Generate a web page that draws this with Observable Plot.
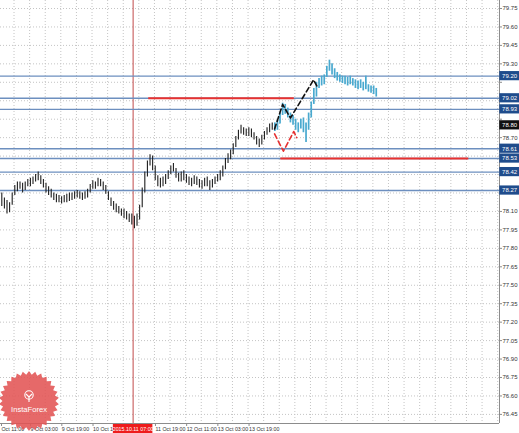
<!DOCTYPE html>
<html><head><meta charset="utf-8">
<script src="https://cdn.jsdelivr.net/npm/d3@7"></script>
<script src="https://cdn.jsdelivr.net/npm/@observablehq/plot@0.6"></script>
<style>
body{margin:0;background:#fff;}
#wrap{position:relative;width:519px;height:433px;overflow:hidden;background:#fff;}
#logo{position:absolute;left:0;top:0;pointer-events:none;}
</style></head><body><div id="wrap"></div>
<script>
// ---- data ----
const blackHigh = [
78.25,78.21,78.19,78.17,78.25,78.31,78.34,78.34,78.33,78.34,
78.36,78.37,78.38,78.40,78.42,78.39,78.36,78.33,78.30,78.28,
78.25,78.24,78.23,78.22,78.23,78.24,78.25,78.25,78.26,78.27,
78.26,78.25,78.26,78.28,78.32,78.35,78.34,78.37,78.36,78.34,
78.31,78.26,78.21,78.18,78.16,78.14,78.12,78.12,78.10,78.08,
78.08,78.06,78.08,78.15,78.29,78.42,78.51,78.56,78.55,78.47,
78.39,78.37,78.38,78.40,78.43,78.47,78.49,78.45,78.41,78.42,
78.43,78.40,78.38,78.37,78.39,78.38,78.36,78.35,78.37,78.38,
78.35,78.36,78.38,78.40,78.43,78.47,78.53,78.57,78.60,78.65,
78.71,78.76,78.80,78.78,78.77,78.78,78.77,78.74,78.71,78.69,
78.72,78.75,78.78,78.81,78.82];
const blackLow = [
78.14,78.12,78.08,78.09,78.15,78.23,78.26,78.28,78.25,78.27,
78.30,78.30,78.32,78.34,78.35,78.32,78.29,78.25,78.23,78.21,
78.19,78.17,78.17,78.16,78.17,78.17,78.18,78.19,78.20,78.21,
78.20,78.19,78.20,78.21,78.25,78.28,78.28,78.30,78.30,78.27,
78.24,78.19,78.14,78.11,78.09,78.08,78.06,78.04,78.03,78.01,
77.99,77.96,77.98,78.03,78.13,78.25,78.38,78.47,78.43,78.35,
78.30,78.29,78.30,78.32,78.36,78.40,78.42,78.37,78.34,78.34,
78.35,78.33,78.31,78.30,78.32,78.31,78.29,78.28,78.30,78.30,
78.27,78.29,78.32,78.34,78.35,78.38,78.44,78.49,78.52,78.56,
78.62,78.68,78.73,78.72,78.71,78.71,78.70,78.68,78.64,78.62,
78.64,78.68,78.72,78.74,78.76];
const blueHigh = [
78.82,78.84,78.90,78.98,78.97,78.94,78.90,78.88,78.85,78.82,
78.85,78.86,78.82,78.90,78.99,79.10,79.15,79.18,79.20,79.21,
79.28,79.33,79.30,79.26,79.23,79.21,79.20,79.20,79.19,79.20,
79.18,79.17,79.16,79.17,79.15,79.20,79.13,79.12,79.12,79.10];
const blueLow = [
78.75,78.76,78.81,78.88,78.89,78.86,78.82,78.80,78.76,78.74,
78.77,78.74,78.66,78.76,78.86,78.97,79.03,79.10,79.12,79.13,
79.19,79.24,79.21,79.18,79.16,79.15,79.14,79.13,79.12,79.13,
79.12,79.10,79.09,79.10,79.08,79.09,79.07,79.06,79.05,79.03];
const blueStart = 105; // bar index where the forecast begins

const levelValues = [79.20, 79.02, 78.93, 78.61, 78.53, 78.42, 78.27];
const currentPrice = 78.80;
const redLevelPrice = [79.02, 78.53];
const redLevelFrom = [56.5, 107.3];
const redLevelTo = [112.5, 179.6];

const blackPathBar = [104.9, 108.0, 111.0, 119.9, 121.4];
const blackPathPrice = [78.77, 78.97, 78.86, 79.17, 79.11];
const redPathBar = [104.9, 108.3, 112.3, 113.4];
const redPathPrice = [78.73, 78.59, 78.75, 78.70];

const yTickValues = [79.75,79.60,79.45,79.30,79.15,79.00,78.85,78.70,78.55,78.40,78.25,
  78.10,77.95,77.80,77.65,77.50,77.35,77.20,77.05,76.90,76.75,76.60,76.45];
const xTickLabels = ["Oct 11:00","9 Oct 03:00","9 Oct 19:00","10 Oct 11:00",
  "11 Oct 19:00","12 Oct 11:00","13 Oct 03:00","13 Oct 19:00"];
const xTickBars = [-0.5, 10.7, 22.7, 34.7, 58.7, 70.7, 82.7, 94.7];
const crosshairBar = 50.5;
const crosshairLabel = "2015.10.11 07:00";

// ---- build ----
const xDomain = [-0.5, 191.4];
const yDomain = [76.376, 79.815];
const pxPerPrice = 123;
const blackBars = blackHigh.map((h, i) => ({i, hi: h, lo: blackLow[i]}));
const blueBars = blueHigh.map((h, i) => ({i: i + blueStart, hi: h, lo: blueLow[i]}));
const redLevels = redLevelPrice.map((p, k) => ({p, from: redLevelFrom[k], to: redLevelTo[k]}));
const blackPath = blackPathBar.map((b, k) => ({b, p: blackPathPrice[k]}));
const redPath = redPathBar.map((b, k) => ({b, p: redPathPrice[k]}));
const xGridPos = d3.range(4.7, 191, 6);
const boxHalf = 4.6 / pxPerPrice;
const boxX1 = 191.5, boxX2 = 200;
const boxed = levelValues.concat([currentPrice]);
const yLabelValues = yTickValues.filter(t => boxed.every(b => Math.abs(b - t) * pxPerPrice > 6.5));

const chart = Plot.plot({
  width: 519, height: 433,
  marginTop: 0, marginRight: 20, marginBottom: 10, marginLeft: 0,
  style: {fontFamily: "'Liberation Sans', Arial, sans-serif", background: "white", overflow: "visible"},
  x: {type: "linear", domain: xDomain, axis: null},
  y: {type: "linear", domain: yDomain, axis: null},
  marks: [
    Plot.gridY(yTickValues, {stroke: "#c4c4c4", strokeOpacity: 1, strokeDasharray: "1,2"}),
    Plot.gridX(xGridPos, {stroke: "#c4c4c4", strokeOpacity: 1, strokeDasharray: "1,2"}),
    Plot.ruleX([crosshairBar], {stroke: "#c24a4a", strokeWidth: 1}),
    Plot.ruleY(levelValues, {stroke: "#6d8fbf", strokeWidth: 1.4}),
    Plot.ruleY(redLevels, {y: "p", x1: "from", x2: "to", stroke: "#e8312f", strokeWidth: 2}),
    Plot.ruleX(blackBars, {x: "i", y1: "lo", y2: "hi", stroke: "#1e1e1e", strokeWidth: 1.1}),
    Plot.ruleX(blueBars, {x: "i", y1: "lo", y2: "hi", stroke: "#49a9cf", strokeWidth: 1.7}),
    Plot.line(blackPath, {x: "b", y: "p", stroke: "#111", strokeWidth: 1.6, strokeDasharray: "5,3"}),
    Plot.line(redPath, {x: "b", y: "p", stroke: "#e53030", strokeWidth: 1.6, strokeDasharray: "5,3"}),
    Plot.ruleX([xDomain[1]], {stroke: "#8c8c8c", strokeWidth: 1}),
    Plot.ruleY([yDomain[0]], {stroke: "#8c8c8c", strokeWidth: 1}),
    Plot.axisY(yTickValues, {anchor: "right", tickSize: 2, tickPadding: 1, fontSize: 6,
      tickFormat: d => yLabelValues.includes(d) ? d.toFixed(2) : "", fill: "#333", stroke: "#8c8c8c"}),
    Plot.axisX(xTickBars, {anchor: "bottom", tickSize: 3, tickPadding: 1, fontSize: 5.3,
      textAnchor: "start", dx: 1, tickFormat: (d, k) => xTickLabels[k], fill: "#333", stroke: "#8c8c8c"}),
    Plot.rect(levelValues, {x1: boxX1, x2: boxX2, y1: d => d - boxHalf, y2: d => d + boxHalf, fill: "#1f4c8c"}),
    Plot.text(levelValues, {x: boxX1 + 0.9, y: d => d, text: d => d.toFixed(2), fill: "white",
      textAnchor: "start", fontSize: 6}),
    Plot.rect([currentPrice], {x1: boxX1, x2: boxX2, y1: d => d - boxHalf, y2: d => d + boxHalf, fill: "#111"}),
    Plot.text([currentPrice], {x: boxX1 + 0.9, y: d => d, text: d => d.toFixed(2), fill: "white",
      textAnchor: "start", fontSize: 6}),
    Plot.rect([crosshairLabel], {x1: crosshairBar - 7.6, x2: crosshairBar + 7.6,
      y1: yDomain[0] - 1 / pxPerPrice, y2: yDomain[0] - 10 / pxPerPrice, fill: "#ee1c1c"}),
    Plot.text([crosshairLabel], {x: crosshairBar, y: yDomain[0] - 5.6 / pxPerPrice, text: d => d,
      fill: "white", fontSize: 5.3})
  ]
});
const wrap = document.getElementById("wrap");
wrap.appendChild(chart);

// InstaForex watermark
const cx = 29, cy = 401, rOut = 30, rIn = 26.5, spikes = 30;
const pts = d3.range(spikes * 2).map(k => {
  const a = Math.PI * k / spikes - Math.PI / 2;
  const r = k % 2 ? rIn : rOut;
  return [cx + r * Math.cos(a), cy + r * Math.sin(a)];
});
const logo = d3.select(wrap).append("svg").attr("id", "logo").attr("width", 519).attr("height", 433);
logo.append("polygon").attr("points", pts.map(p => p.join(",")).join(" "))
  .attr("fill", "#e25454").attr("fill-opacity", 0.88);
const g = logo.append("g").attr("stroke", "white").attr("fill", "none").attr("stroke-width", 1.1);
g.append("circle").attr("cx", cx).attr("cy", cy - 6).attr("r", 4.2);
g.append("line").attr("x1", cx).attr("y1", cy - 4).attr("x2", cx).attr("y2", cy + 1);
g.append("line").attr("x1", cx - 3).attr("y1", cy - 7).attr("x2", cx).attr("y2", cy - 4);
g.append("line").attr("x1", cx + 3).attr("y1", cy - 7).attr("x2", cx).attr("y2", cy - 4);
logo.append("text").attr("x", cx).attr("y", cy + 10.5).attr("text-anchor", "middle")
  .attr("fill", "white").attr("font-size", 7.6).attr("font-family", "'Liberation Sans', Arial, sans-serif")
  .text("InstaForex");
</script></body></html>
